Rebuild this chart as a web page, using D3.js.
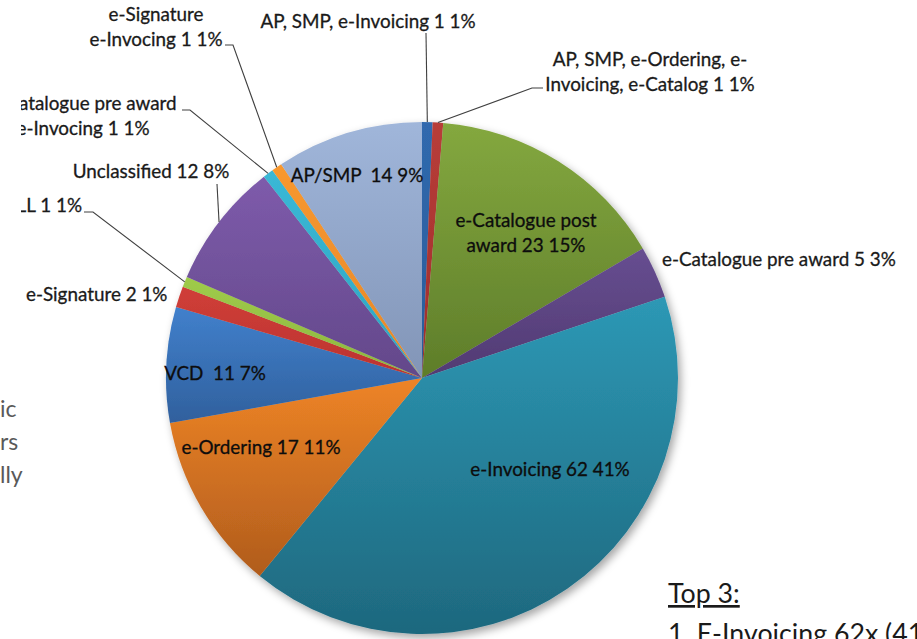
<!DOCTYPE html>
<html>
<head>
<meta charset="utf-8">
<script src="https://cdn.jsdelivr.net/npm/d3@7"></script>
<style>
  html, body { margin: 0; padding: 0; background: #fff; }
  svg { display: block; }
  text { font-family: Lato, "Open Sans", sans-serif; white-space: pre; }
</style>
</head>
<body>
<svg id="chart" width="917" height="639"></svg>
<script>
// ---- data ----
const categories = [
  "AP, SMP, e-Invoicing",
  "AP, SMP, e-Ordering, e-\nInvoicing, e-Catalog",
  "e-Catalogue post\naward",
  "e-Catalogue pre award",
  "e-Invoicing",
  "e-Ordering",
  "VCD ",
  "e-Signature",
  "ALL",
  "Unclassified",
  "e-Catalogue pre award\ne-Invocing",
  "e-Signature\ne-Invocing",
  "AP/SMP "
];
const values = [1, 1, 23, 5, 62, 17, 11, 2, 1, 12, 1, 1, 14];
const sideText = ["ic", "rs", "lly"];
const topTitle = "Top 3:";
const topLine1 = "1. E-Invoicing 62x (41%)";

// ---- styles ----
const topColors = ["#3069AE","#B83D39","#84A83F","#674E91","#2D98B5","#EE8426","#4180CC",
                   "#D03E38","#9FCB4A","#7E5BAB","#3AB8D6","#F8982F","#A0B6DA"];
const botColors = ["#2A5C99","#9E2D2B","#5E7D2A","#513A72","#1E687E","#B05C1D","#30609D",
                   "#BB3330","#8DB63F","#63488A","#2FA5C0","#E5872A","#8295B7"];

// ---- layout of labels (text anchor points + leader elbows) ----
const labelLayout = {
  0:  {x: 368, y: 28,  anchor: "middle", leader: [[426, 33]]},
  1:  {x: 650, y: 66,  anchor: "middle", leader: [[543, 88], [532, 88]]},
  2:  {x: 526, y: 227, anchor: "middle", inside: true},
  3:  {x: 662, y: 266, anchor: "start"},
  4:  {x: 550, y: 476, anchor: "middle", inside: true},
  5:  {x: 261, y: 454, anchor: "middle", inside: true},
  6:  {x: 215, y: 380, anchor: "middle", inside: true},
  7:  {x: 26,  y: 301, anchor: "start"},
  8:  {x: 82,  y: 212, anchor: "end",    leader: [[84, 212], [93, 212]]},
  9:  {x: 151, y: 178, anchor: "middle", leader: [[217, 184]]},
  10: {x: 83,  y: 110, anchor: "middle", leader: [[182, 110], [190, 110]]},
  11: {x: 156, y: 21,  anchor: "middle", leader: [[225, 45], [233, 45]]},
  12: {x: 357, y: 182, anchor: "middle", inside: true}
};
const lineGap = 24.5;

const cx = 422, cy = 378, R = 256;
const svg = d3.select("#chart");

// font calibration: make reference label 234px wide
const probe = svg.append("text").attr("font-size", 20).text("e-Catalogue pre award 5 3%");
const w20 = probe.node().getComputedTextLength();
probe.remove();
const fs = 20 * 234 / w20;

const defs = svg.append("defs");
const shadow = defs.append("filter").attr("id", "shadow")
  .attr("x", "-10%").attr("y", "-10%").attr("width", "125%").attr("height", "125%");
shadow.append("feDropShadow").attr("dx", 3).attr("dy", 4).attr("stdDeviation", 4)
  .attr("flood-color", "#000").attr("flood-opacity", 0.35);

values.forEach((v, i) => {
  const g = defs.append("linearGradient").attr("id", "grad" + i)
    .attr("x1", 0).attr("y1", 0).attr("x2", 0).attr("y2", 1);
  g.append("stop").attr("offset", "0%").attr("stop-color", topColors[i]);
  g.append("stop").attr("offset", "100%").attr("stop-color", botColors[i]);
});

const total = d3.sum(values);
const pie = d3.pie().sort(null).value(d => d);
const arcs = pie(values);
const arc = d3.arc().innerRadius(0).outerRadius(R);
const edge = d3.arc().innerRadius(R).outerRadius(R);

const pieG = svg.append("g").attr("transform", `translate(${cx},${cy})`)
  .attr("filter", "url(#shadow)");
pieG.selectAll("path").data(arcs).join("path")
  .attr("d", arc)
  .attr("fill", (d, i) => `url(#grad${i})`);

// leader lines
const leaderG = svg.append("g");
arcs.forEach((d, i) => {
  const L = labelLayout[i];
  if (!L.leader) return;
  const p = edge.centroid(d);
  const pts = L.leader.concat([[cx + p[0], cy + p[1]]]);
  leaderG.append("path")
    .attr("d", d3.line()(pts))
    .attr("fill", "none").attr("stroke", "#404040").attr("stroke-width", 1.1);
});

// labels
const labelG = svg.append("g");
arcs.forEach((d, i) => {
  const L = labelLayout[i];
  const pct = Math.round(values[i] / total * 100) + "%";
  const full = categories[i] + "  " .slice(0, 1) + values[i] + " " + pct;
  const lines = full.split("\n");
  const col = L.inside ? "#0d0d0d" : "#1a1a1a";
  const t = labelG.append("text")
    .attr("x", L.x).attr("y", L.y)
    .attr("text-anchor", L.anchor)
    .attr("font-size", fs)
    .attr("fill", col)
    .attr("stroke", col).attr("stroke-width", 0.3);
  lines.forEach((ln, k) => {
    t.append("tspan").attr("x", L.x).attr("y", L.y + k * lineGap).text(ln);
  });
});

// white slide text box overlapping the left side
svg.append("rect").attr("x", 0).attr("y", 88).attr("width", 21).attr("height", 420).attr("fill", "#fff");
svg.selectAll(".side").data(sideText).join("text")
  .attr("class", "side")
  .attr("x", 0)
  .attr("y", (d, i) => 417 + i * 33)
  .attr("font-size", fs * 1.22)
  .attr("fill", "#595959")
  .text(d => d);

// Top 3 text
svg.append("text").attr("x", 668).attr("y", 603)
  .attr("font-size", fs * 1.42).attr("fill", "#1a1a1a")
  .attr("text-decoration", "underline").text(topTitle);
svg.append("text").attr("x", 668).attr("y", 643)
  .attr("font-size", fs * 1.42).attr("fill", "#1a1a1a").text(topLine1);
</script>
</body>
</html>
